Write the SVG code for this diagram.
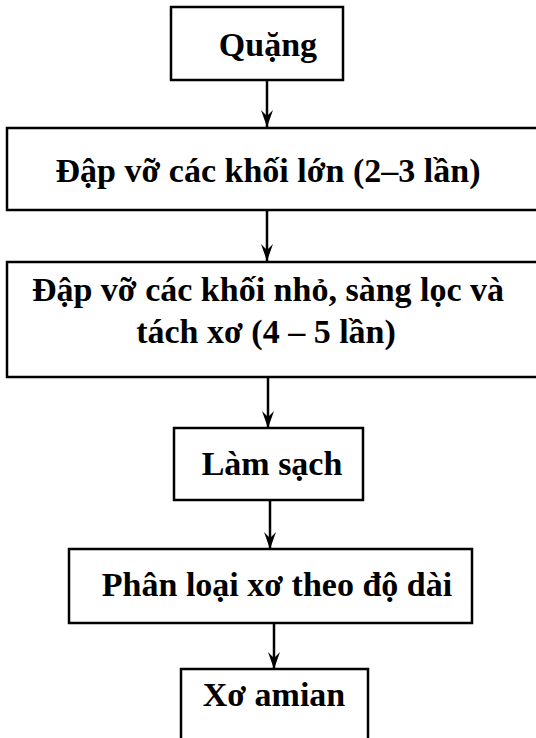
<svg xmlns="http://www.w3.org/2000/svg" width="536" height="738" viewBox="0 0 536 738">
<defs>
<marker id="ah" markerUnits="userSpaceOnUse" markerWidth="18" markerHeight="12" refX="17" refY="6" orient="auto" viewBox="0 0 18 12">
<path d="M0,0 L6,6 L0,12 L17,6 Z" fill="#000"/>
</marker>
</defs>
<style>
.box{fill:#fff;stroke:#000;stroke-width:2.5}
.t{font-family:"Liberation Serif","Times New Roman",serif;font-weight:bold;font-size:34px;fill:#000;text-anchor:middle}
.c{stroke:#000;stroke-width:2.5;fill:none}
</style>
<rect width="536" height="738" fill="#fff"/>
<g id="connectors">
<line class="c" x1="267" y1="80" x2="267" y2="127" marker-end="url(#ah)"/>
<line class="c" x1="267" y1="210" x2="267" y2="261" marker-end="url(#ah)"/>
<line class="c" x1="268" y1="377" x2="268" y2="428" marker-end="url(#ah)"/>
<line class="c" x1="270" y1="500" x2="270" y2="549" marker-end="url(#ah)"/>
<line class="c" x1="274" y1="623" x2="274" y2="669" marker-end="url(#ah)"/>
</g>
<g id="n1">
<rect class="box" x="171" y="7" width="172" height="73"/>
<text class="t" x="268" y="56">Quặng</text>
</g>
<g id="n2">
<rect class="box" x="7" y="128" width="540" height="82"/>
<text class="t" x="268" y="182">Đập vỡ các khối lớn (2–3 lần)</text>
</g>
<g id="n3">
<rect class="box" x="7" y="262" width="540" height="115"/>
<text class="t" x="268" y="301">Đập vỡ các khối nhỏ, sàng lọc và</text>
<text class="t" x="266" y="343">tách xơ (4 – 5 lần)</text>
</g>
<g id="n4">
<rect class="box" x="174" y="428" width="189" height="72"/>
<text class="t" x="272" y="475">Làm sạch</text>
</g>
<g id="n5">
<rect class="box" x="69" y="549" width="403" height="74"/>
<text class="t" x="277" y="596">Phân loại xơ theo độ dài</text>
</g>
<g id="n6">
<rect class="box" x="181" y="669" width="187" height="80"/>
<text class="t" x="274" y="706">Xơ amian</text>
</g>
</svg>
